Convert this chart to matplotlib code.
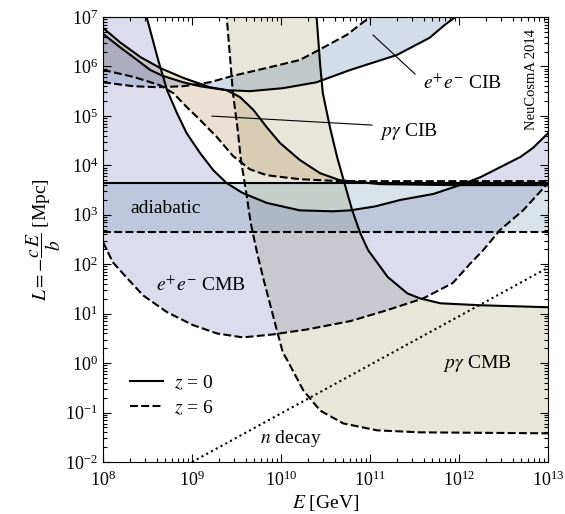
import numpy as np
import matplotlib
matplotlib.use('Agg')
import matplotlib.pyplot as plt
from matplotlib.ticker import LogLocator, NullFormatter

plt.rcParams['font.family'] = ['Liberation Serif', 'DejaVu Serif']
plt.rcParams['mathtext.fontset'] = 'stix'

# all curves as log10(E/GeV), log10(L/Mpc)
# p gamma on CMB
pg_cmb_z0_logE = [10.39, 10.40, 10.44, 10.47, 10.55, 10.63, 10.71, 10.80, 10.89, 10.98, 11.20, 11.42, 11.56, 11.79, 12.24, 13.0]
pg_cmb_z0_logL = [7.55, 7.0, 6.03, 5.46, 4.77, 4.17, 3.66, 3.09, 2.63, 2.28, 1.74, 1.41, 1.31, 1.21, 1.17, 1.13]
pg_cmb_z6_logE = [9.38, 9.39, 9.43, 9.46, 9.51, 9.55, 9.61, 9.66, 9.73, 9.80, 9.88, 9.96, 10.02, 10.07, 10.25, 10.44, 10.70, 11.08, 11.56, 13.0]
pg_cmb_z6_logL = [7.34, 7.0, 6.13, 5.46, 4.77, 4.11, 3.44, 2.83, 2.24, 1.72, 1.17, 0.62, 0.22, 0.06, -0.55, -0.96, -1.22, -1.36, -1.40, -1.42]

# e+e- pair production on CMB
ee_cmb_z0_logE = [8.48, 8.49, 8.62, 8.72, 8.83, 8.94, 9.09, 9.24, 9.39, 9.57, 9.84, 10.21, 10.58, 10.78, 11.06, 11.34, 11.71, 12.01, 12.24, 12.46, 12.69, 12.83, 13.0]
ee_cmb_z0_logL = [7.34, 7.0, 6.13, 5.52, 5.06, 4.65, 4.25, 3.90, 3.64, 3.44, 3.24, 3.09, 3.07, 3.09, 3.17, 3.30, 3.42, 3.60, 3.76, 3.96, 4.17, 4.35, 4.65]
ee_cmb_z6_logE = [8.0, 8.11, 8.27, 8.45, 8.72, 9.01, 9.28, 9.57, 9.91, 10.29, 10.78, 11.19, 11.60, 11.93, 12.12, 12.27, 12.46, 12.72, 13.0]
ee_cmb_z6_logL = [2.45, 2.04, 1.72, 1.37, 1.03, 0.77, 0.60, 0.52, 0.58, 0.68, 0.85, 1.07, 1.31, 1.62, 2.0, 2.28, 2.69, 3.09, 3.64]

# p gamma on CIB
pg_cib_z0_logE = [8.0, 8.19, 8.42, 8.64, 8.90, 9.20, 9.39, 9.54, 9.69, 9.84, 9.99, 10.21, 10.44, 10.66, 11.11, 11.90, 13.0]
pg_cib_z0_logL = [6.78, 6.49, 6.19, 5.97, 5.77, 5.58, 5.52, 5.38, 5.12, 4.77, 4.45, 4.11, 3.84, 3.70, 3.62, 3.60, 3.60]
pg_cib_z6_logE = [8.0, 8.34, 8.64, 8.79, 8.94, 9.09, 9.28, 9.46, 9.65, 9.84, 10.21, 10.66, 13.0]
pg_cib_z6_logL = [5.93, 5.79, 5.62, 5.46, 5.18, 4.92, 4.57, 4.19, 3.92, 3.80, 3.72, 3.68, 3.68]

# e+e- pair production on CIB
ee_cib_z0_logE = [8.0, 8.19, 8.34, 8.53, 8.67, 8.90, 9.09, 9.39, 9.65, 10.02, 10.40, 10.78, 11.30, 11.67, 11.84, 11.96, 12.07]
ee_cib_z0_logL = [6.66, 6.39, 6.19, 5.93, 5.81, 5.68, 5.60, 5.52, 5.50, 5.56, 5.68, 5.93, 6.23, 6.58, 6.84, 7.0, 7.18]
ee_cib_z6_logE = [8.0, 8.34, 8.61, 8.90, 9.20, 9.46, 9.84, 10.21, 10.36, 10.74, 11.0, 11.11]
ee_cib_z6_logL = [5.68, 5.60, 5.58, 5.60, 5.68, 5.81, 5.97, 6.13, 6.27, 6.64, 7.0, 7.18]

# adiabatic losses (Mpc)
adiab_z0 = 4.3e3
adiab_z6 = 4.4e2

# neutron decay length
n_decay_logE = [9.0, 13.0]
n_decay_logL = [-2.0, 1.93]

xlim = (1e8, 1e13)
ylim = (1e-2, 1e7)
xticks = 10.0**np.arange(8, 14)
yticks = 10.0**np.arange(-2, 8)

c_eecmb = '#5050aa'
c_adiab = '#467396'
c_pgcmb = '#8c823c'
c_pgcib = '#9b6428'
c_eecib = '#2d5091'
alpha = 0.2

fig = plt.figure(figsize=(5.65, 5.14), dpi=100)
ax = fig.add_axes([103/565, 52/514, 445/565, 445/514])
ax.set_xscale('log')
ax.set_yscale('log')


def band(lE1, lL1, lE2, lL2, color, extra=()):
    xs = list(lE1) + list(lE2)[::-1] + [p[0] for p in extra]
    ys = list(lL1) + list(lL2)[::-1] + [p[1] for p in extra]
    ax.fill(10**np.array(xs), 10**np.array(ys), color=color, alpha=alpha, lw=0)


band(pg_cmb_z6_logE, pg_cmb_z6_logL, pg_cmb_z0_logE, pg_cmb_z0_logL, c_pgcmb)
band(pg_cib_z0_logE, pg_cib_z0_logL, pg_cib_z6_logE, pg_cib_z6_logL, c_pgcib)
band(ee_cib_z0_logE, ee_cib_z0_logL, ee_cib_z6_logE, ee_cib_z6_logL, c_eecib)
band(ee_cmb_z6_logE, ee_cmb_z6_logL, ee_cmb_z0_logE, ee_cmb_z0_logL, c_eecmb,
     extra=[(np.log10(xlim[0]), np.log10(ylim[1]) + 1)])
ax.axhspan(adiab_z6, adiab_z0, color=c_adiab, alpha=alpha, lw=0)

lw = 1.5
dash = (0, (3.8, 1.6))
for lE, lL in [(pg_cmb_z0_logE, pg_cmb_z0_logL), (ee_cmb_z0_logE, ee_cmb_z0_logL),
               (pg_cib_z0_logE, pg_cib_z0_logL), (ee_cib_z0_logE, ee_cib_z0_logL)]:
    ax.plot(10**np.array(lE), 10**np.array(lL), color='k', lw=lw)
for lE, lL in [(pg_cmb_z6_logE, pg_cmb_z6_logL), (ee_cmb_z6_logE, ee_cmb_z6_logL),
               (pg_cib_z6_logE, pg_cib_z6_logL), (ee_cib_z6_logE, ee_cib_z6_logL)]:
    ax.plot(10**np.array(lE), 10**np.array(lL), color='k', lw=lw, ls=dash)
ax.axhline(adiab_z0, color='k', lw=lw)
ax.axhline(adiab_z6, color='k', lw=lw, ls=dash)
ax.plot(10**np.array(n_decay_logE), 10**np.array(n_decay_logL), color='k', lw=lw, ls=(0, (1.0, 1.6)))

# labels and pointers
fs = 14
ax.text(5e8, 1.36e3, 'adiabatic', fontsize=fs, ha='center', va='center')
ax.text(1.26e9, 37.6, r'$e^{+}e^{-}$ CMB', fontsize=fs, ha='center', va='center')
ax.text(1.6e12, 1.0, r'$p\gamma$ CMB', fontsize=fs, ha='center', va='center')
ax.text(1.3e10, 0.03, r'$n$ decay', fontsize=fs, ha='center', va='center')
ax.text(1.3e11, 4.9e4, r'$p\gamma$ CIB', fontsize=fs, ha='left', va='center')
ax.text(3.9e11, 4.6e5, r'$e^{+}e^{-}$ CIB', fontsize=fs, ha='left', va='center')
ax.plot([10**9.225, 10**11.022], [10**4.996, 10**4.814], color='k', lw=0.8)
ax.plot([10**11.034, 10**11.506], [10**6.636, 10**5.846], color='k', lw=0.8)
ax.text(0.964, 0.86, 'NeuCosmA 2014', fontsize=10.5, rotation=90,
        ha='center', va='center', transform=ax.transAxes)

ax.plot([], [], color='k', lw=lw, label=r'$z$ = 0')
ax.plot([], [], color='k', lw=lw, ls=dash, label=r'$z$ = 6')
ax.legend(loc='center left', bbox_to_anchor=(0.06, 0.15), frameon=False, fontsize=fs,
          handlelength=1.7, handletextpad=0.6, borderpad=0, borderaxespad=0, labelspacing=0.35)

ax.set_xlim(*xlim)
ax.set_ylim(*ylim)
ax.set_xticks(xticks)
ax.set_yticks(yticks)
for a in (ax.xaxis, ax.yaxis):
    a.set_minor_locator(LogLocator(base=10, subs=np.arange(2, 10), numticks=20))
    a.set_minor_formatter(NullFormatter())
ax.set_xlim(*xlim)
ax.set_ylim(*ylim)
ax.tick_params(which='both', direction='in', top=True, right=True, labelsize=13, width=0.8)
ax.tick_params(which='major', length=6)
ax.tick_params(which='minor', length=3)
ax.tick_params(axis='x', pad=6)
for s in ax.spines.values():
    s.set_linewidth(0.8)
ax.set_xlabel(r'$E$ [GeV]', fontsize=fs, labelpad=2)
ax.set_ylabel(r'$L = -\dfrac{c\,E}{b}$ [Mpc]', fontsize=fs, labelpad=2)

plt.savefig('out.png', dpi=100)
